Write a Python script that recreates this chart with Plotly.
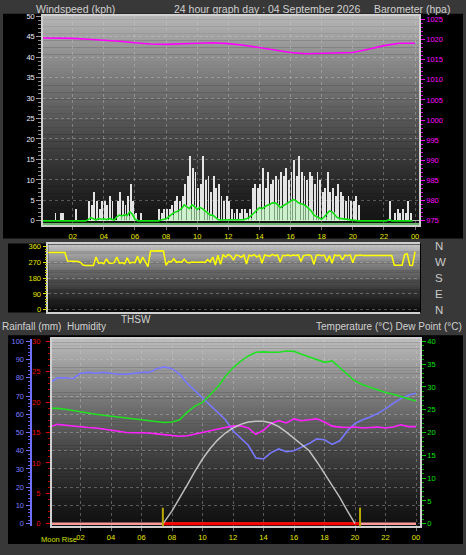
import plotly.graph_objects as go

# ---------------- data ----------------
wind_times = [i / 6 for i in range(144)]          # 10-minute samples
wind_gust = [
    0, 0, 0, 0, 0, 2,
    0, 2, 2, 0, 0, 0,
    0, 3, 0, 0, 0, 0,
    5, 4, 7, 5, 3, 5,
    5, 4, 6, 5, 0, 5,
    7, 5, 4, 6, 9, 5,
    2, 0, 2, 0, 0, 0,
    0, 0, 0, 3, 2, 3,
    3, 3, 4, 5, 6, 5,
    6, 9, 11, 16, 13, 12,
    8, 9, 16, 10, 11, 7,
    11, 8, 9, 6, 5, 6,
    5, 3, 2, 3, 2, 3,
    3, 2, 3, 8, 9, 8,
    9, 13, 8, 12, 9, 10,
    11, 10, 12, 11, 13, 10,
    12, 15, 11, 16, 12, 11,
    10, 12, 11, 9, 12, 10,
    7, 8, 12, 7, 8, 6,
    9, 7, 6, 5, 6, 5,
    5, 6, 4, 0, 0, 0,
    0, 0, 0, 0, 0, 0,
    0, 0, 5, 0, 2, 3,
    2, 3, 2, 5, 2, 0,
]
wind_avg = [
    0, 0, 0, 0, 0, 0,
    0, 0, 0, 0, 0, 0,
    0, 0, 0, 0, 0, 0,
    0.3, 0.8, 0.5, 0.2, 0.6, 0.4,
    0.5, 0.3, 0.6, 0.4, 0.2, 1.0,
    1.4, 1.2, 1.5, 1.3, 2.2, 1.6,
    0.4, 0, 0, 0, 0, 0,
    0, 0, 0, 0, 0.2, 0.4,
    0.5, 1.0, 1.5, 2.0, 2.2, 2.6,
    3.0, 3.9, 3.4, 3.0, 3.9, 3.5,
    2.8, 3.3, 3.0, 2.5, 2.0, 1.4,
    1.4, 0.8, 0.3, 0.2, 0.2, 0.2,
    0.2, 0.3, 0.2, 0.3, 0.2, 0.3,
    0.3, 0.5, 0.8, 1.4, 2.0, 2.6,
    3.2, 3.0, 3.5, 3.8, 4.0, 4.4,
    4.4, 4.0, 3.2, 3.6, 4.2, 4.6,
    4.8, 5.2, 5.0, 4.4, 4.2, 4.0,
    3.6, 3.0, 2.4, 1.4, 1.0, 0.6,
    0.4, 1.0, 1.6, 2.4, 2.2, 1.4,
    0.8, 0.6, 0.5, 0.4, 0.4, 0.3,
    0.2, 0, 0, 0, 0, 0,
    0, 0, 0, 0, 0, 0,
    0, 0, 0.3, 0, 0, 0,
    0, 0, 0, 0, 0, 0,
]

baro_times = list(range(25))
barometer = [1020.4, 1020.4, 1020.3, 1020.1, 1019.9, 1019.6, 1019.2, 1018.9, 1018.8,
             1019.0, 1019.1, 1019.2, 1019.0, 1018.6, 1018.0, 1017.4, 1016.8, 1016.5,
             1016.6, 1016.6, 1016.8, 1017.6, 1018.5, 1019.1, 1019.1]

dir_times = [i / 6 for i in range(145)]
wind_dir = [
    325, 325, 324, 326, 325, 325, 324, 325, 326, 325,
    277, 276, 278, 277, 275, 270,
    255, 252, 253, 254, 252, 300,
    265, 268, 262, 290, 266, 264, 268, 300,
    265, 268, 262, 295, 266, 270,
    268, 305, 264, 300, 270, 245,
    334, 335, 334, 333, 335, 334,
    253, 275, 272, 290, 270, 273,
    271, 288, 270, 268, 272, 270,
    272, 270, 271, 269, 285, 272,
    300, 255, 310, 258, 312, 300,
    315, 305, 282, 312, 308, 298,
    312, 260, 310, 306, 314, 300,
    310, 265, 312, 308, 305, 315,
    308, 312, 270, 310, 307, 313,
    306, 311, 309, 312, 275, 308,
    310, 313, 306, 258, 310, 312,
    307, 311, 275, 309, 265, 312,
    308, 310, 283, 311, 307, 312,
    268, 310, 309, 311, 308, 310,
    309, 309, 309, 309, 309, 309, 309, 309, 309, 309,
    253, 252, 254, 253,
    315, 318, 253, 252, 330,
]

clim_times = [i * 0.5 for i in range(49)]
humidity = [77.5, 80, 80, 79.5, 82.5, 83, 82.5, 83, 82.5, 82, 82, 82.5, 83, 83,
            85, 86, 85, 82, 77, 73, 69, 65.5, 61, 57, 51, 47, 43, 36, 35.5, 39,
            41, 39.5, 40, 42, 44, 46.5, 46, 43.5, 45.5, 51, 55, 57, 58.5, 60.5,
            63, 66, 68.5, 70.5, 71.5]
temperature = [25.3, 25.3, 25.1, 24.8, 24.5, 24.3, 24.0, 23.8, 23.6, 23.5, 23.3,
               23.1, 22.9, 22.7, 22.4, 22.2, 22.3, 22.8, 24.5, 25.8, 26.6, 28.3,
               30.0, 32.3, 34.2, 35.6, 36.8, 37.6, 37.7, 37.6, 37.6, 37.9, 37.8,
               37.2, 36.6, 36.0, 35.4, 35.7, 34.3, 32.9, 31.3, 30.5, 29.9, 29.4,
               28.8, 28.4, 27.9, 27.4, 26.9]
dew_point = [21.3, 21.8, 21.6, 21.4, 21.2, 21.1, 21.0, 20.8, 20.6, 20.3, 20.0,
             20.0, 19.9, 19.9, 19.7, 19.5, 19.4, 19.2, 19.3, 19.6, 20.0, 20.4,
             20.8, 21.1, 21.4, 21.5, 21.0, 19.6, 20.5, 22.0, 22.6, 22.1, 23.0,
             22.6, 22.8, 23.0, 22.3, 21.4, 21.2, 21.1, 21.2, 21.0, 21.1, 21.2,
             21.0, 21.2, 21.7, 21.3, 21.3]

sun_times = [7.4, 7.5, 8, 8.5, 9, 9.5, 10, 10.5, 11, 11.5, 12, 12.5, 13, 13.5,
             14, 14.5, 15, 15.5, 16, 16.5, 17, 17.5, 18, 18.5, 19, 19.5, 20.0]
sun_curve = [0, 0.4, 2.8, 5.5, 8.5, 11.5, 14.2, 16.5, 18.4, 19.9, 21.0, 21.8,
             22.3, 22.5, 22.5, 22.1, 21.3, 20.1, 18.7, 17.4, 16.0, 13.6, 11.0,
             8.6, 5.8, 2.8, 0]

rain_times = [0, 3, 6, 9, 12, 15, 18, 21, 24]
rainfall = [0, 0, 0, 0, 0, 0, 0, 0, 0]
sun_events = [7.4, 20.33]            # sunrise, sunset

hour_ticks = [2, 4, 6, 8, 10, 12, 14, 16, 18, 20, 22, 24]
hour_labels = ["02", "04", "06", "08", "10", "12", "14", "16", "18", "20", "22", "00"]
dir_ticks = [0, 90, 180, 270, 360]
compass_labels = ["N", "E", "S", "W", "N"]

# ---------------- layout helpers ----------------
W, H = 466, 555
FONT = "Liberation Sans"


def px(x):
    return x / W


def py(y):
    return 1 - y / H


shapes = []


def rect(x0, x1, y0, y1, color):
    shapes.append(dict(type="rect", xref="paper", yref="paper", layer="below",
                       x0=px(x0), x1=px(x1), y0=py(y1), y1=py(y0),
                       fillcolor=color, line=dict(width=0)))


def gradient(x0, x1, y0, y1, top, bot, n=60, gamma=1.3):
    for k in range(n):
        t = (k + 0.5) / n
        c = int(round(bot + (top - bot) * (1 - t) ** gamma))
        ya = y0 + (y1 - y0) * k / n
        yb = y0 + (y1 - y0) * (k + 1) / n + 0.4
        rect(x0, x1, ya, min(yb, y1), f"rgb({c},{c},{c})")


# black panels
rect(3, 463, 10, 238, "#000000")
rect(8, 421, 243, 313, "#000000")
rect(8, 463, 336, 548, "#000000")
# plot area gradients
gradient(43, 419, 12, 224, 182, 20)
gradient(48.3, 420, 244, 312, 195, 16)
gradient(51.7, 420, 340, 530, 188, 16)

# sunrise / sunset markers
for ev in sun_events:
    shapes.append(dict(type="line", xref="x3", yref="y6 domain", x0=ev, x1=ev,
                       y0=0, y1=0.1, line=dict(color="#b8a800", width=2)))
# light green base line of the wind panel
shapes.append(dict(type="line", xref="x domain", yref="y domain", x0=0, x1=1, y0=0.004,
                   y1=0.004, line=dict(color="#8ee88e", width=1.5)))

fig = go.Figure()

# ---- top panel: wind speed + barometer ----
fig.add_trace(go.Bar(x=wind_times, y=wind_gust, xaxis="x", yaxis="y", width=0.12,
                     marker=dict(color="rgba(245,245,245,0.92)", line=dict(width=0)),
                     offset=0, name="gust"))
fig.add_trace(go.Bar(x=wind_times, y=wind_avg, xaxis="x", yaxis="y", width=0.17,
                     marker=dict(color="rgba(190,250,190,0.6)", line=dict(width=0)),
                     offset=0, name="avg bars"))
fig.add_trace(go.Scatter(x=wind_times, y=wind_avg, xaxis="x", yaxis="y", mode="lines",
                         line=dict(color="#10e010", width=1.6), name="avg"))
fig.add_trace(go.Scatter(x=baro_times, y=barometer, xaxis="x", yaxis="y2", mode="lines",
                         line=dict(color="#ff00ff", width=1.6), name="baro"))

# ---- middle panel: wind direction ----
fig.add_trace(go.Scatter(x=dir_times, y=wind_dir, xaxis="x2", yaxis="y3", mode="lines",
                         line=dict(color="#ffff00", width=1.5), name="dir"))
fig.add_trace(go.Scatter(x=dir_times, y=wind_dir, xaxis="x2", yaxis="y4", mode="lines",
                         line=dict(color="rgba(0,0,0,0)", width=0), hoverinfo="skip",
                         name="compass"))

# ---- bottom panel ----
fig.add_trace(go.Scatter(x=rain_times, y=rainfall, xaxis="x3", yaxis="y6", mode="lines",
                         line=dict(color="#ff9a9a", width=2.5), name="rain"))
fig.add_trace(go.Scatter(x=sun_events, y=[rainfall[0], rainfall[-1]], xaxis="x3", yaxis="y6",
                         mode="lines", line=dict(color="#ff0000", width=3), name="daylight"))
fig.add_trace(go.Scatter(x=clim_times, y=humidity, xaxis="x3", yaxis="y5", mode="lines",
                         line=dict(color="#7878ff", width=1.6), name="hum"))
fig.add_trace(go.Scatter(x=clim_times, y=temperature, xaxis="x3", yaxis="y7", mode="lines",
                         line=dict(color="#22e022", width=1.6), name="temp"))
fig.add_trace(go.Scatter(x=clim_times, y=dew_point, xaxis="x3", yaxis="y7", mode="lines",
                         line=dict(color="#ff22ff", width=1.6), name="dew"))
fig.add_trace(go.Scatter(x=sun_times, y=sun_curve, xaxis="x3", yaxis="y7", mode="lines",
                         line=dict(color="rgba(215,215,215,0.85)", width=1.5), name="sun"))

GRID = "rgba(210,210,210,0.35)"
FRAME = "#d0d0d0"

xcommon = dict(tickvals=hour_ticks, ticktext=hour_labels, showgrid=True, gridcolor=GRID,
               griddash="dot", gridwidth=1, zeroline=False, showline=True, mirror=True,
               linecolor=FRAME, linewidth=1.5, ticks="outside", ticklen=3,
               tickcolor="#777777", tickfont=dict(family=FONT, size=7.5, color="#e8e800"))

fig.update_layout(
    width=W, height=H, autosize=False,
    margin=dict(l=0, r=0, t=0, b=0),
    paper_bgcolor="#383838", plot_bgcolor="rgba(0,0,0,0)",
    showlegend=False, barmode="overlay", bargap=0,
    font=dict(family=FONT, color="#d0d0d0"),
    shapes=shapes,
    xaxis=dict(domain=[px(43), px(419)], range=[0.09, 24.254], anchor="y", **xcommon),
    yaxis=dict(domain=[py(224), py(12)], range=[-0.96, 50.07], dtick=5, tick0=0,
               showgrid=True, gridcolor=GRID, griddash="dot", zeroline=True,
               zerolinecolor="#bbbbbb", zerolinewidth=1, showline=True, linecolor=FRAME,
               linewidth=1.5, ticks="outside", ticklen=5, tickcolor="#999999",
               minor=dict(ticks="outside", ticklen=3, dtick=1, tickcolor="#888888", showgrid=False),
               tickfont=dict(family=FONT, size=7.5, color="#e8ecff"), anchor="x"),
    yaxis2=dict(overlaying="y", side="right", anchor="x", range=[974.02, 1025.9],
                dtick=5, tick0=975, showgrid=False, zeroline=False, showline=True,
                linecolor=FRAME, linewidth=1.5, ticks="outside", ticklen=4,
                tickcolor="#ff00ff",
                minor=dict(ticks="outside", ticklen=2, dtick=1, tickcolor="#cc00cc"),
                tickfont=dict(family=FONT, size=7.5, color="#ff00ff")),
    xaxis2=dict(domain=[px(48.3), px(420)], range=[0.431, 24.319], anchor="y3",
                showticklabels=False, showgrid=False, zeroline=False, showline=True,
                mirror=True, linecolor=FRAME, linewidth=1.5, ticks=""),
    yaxis3=dict(domain=[py(312), py(244)], range=[-9.5, 371.2], anchor="x2",
                tickvals=dir_ticks, showgrid=True, gridcolor=GRID, griddash="dot",
                zeroline=False, showline=True, linecolor=FRAME, linewidth=1.5,
                ticks="outside", ticklen=4, tickcolor="#e0e000",
                minor=dict(ticks="outside", ticklen=2, dtick=15, tickcolor="#c8c800"),
                tickfont=dict(family=FONT, size=7.5, color="#e8e800")),
    yaxis4=dict(overlaying="y3", side="right", anchor="x2", range=[-9.5, 371.2],
                tickvals=dir_ticks, ticktext=compass_labels, showgrid=False,
                zeroline=False, showline=False, ticks="", ticklabelstandoff=14,
                tickfont=dict(family=FONT, size=11.5, color="#c8c8c8")),
    xaxis3=dict(domain=[px(51.7), px(420)], range=[0.111, 24.262], anchor="y6", **xcommon),
    yaxis6=dict(domain=[py(530), py(340)], range=[-0.44, 30.37], anchor="x3", dtick=5,
                tick0=0, showgrid=False, zeroline=False, showline=True, linecolor=FRAME,
                linewidth=1.5, ticks="outside", ticklen=4, tickcolor="#dd0000",
                minor=dict(ticks="outside", ticklen=2, dtick=1, tickcolor="#bb0000"),
                ticklabelstandoff=4,
                tickfont=dict(family=FONT, size=7.5, color="#ee0000")),
    yaxis5=dict(overlaying="y6", anchor="free", position=px(30.5), side="left",
                range=[-1.46, 101.24], dtick=10, tick0=0, showgrid=True, gridcolor=GRID,
                griddash="dot", zeroline=False, showline=True, linecolor="#7070ff",
                linewidth=2, ticks="outside", ticklen=4, tickcolor="#7070ff",
                minor=dict(ticks="outside", ticklen=2, dtick=2, tickcolor="#6060ee"),
                tickfont=dict(family=FONT, size=7.5, color="#7a7aff")),
    yaxis7=dict(overlaying="y6", side="right", anchor="x3", range=[-0.58, 40.5],
                dtick=5, tick0=0, showgrid=False, zeroline=False, showline=True,
                linecolor=FRAME, linewidth=1.5, ticks="outside", ticklen=4,
                tickcolor="#00cc00",
                minor=dict(ticks="outside", ticklen=2, dtick=1, tickcolor="#00aa00"),
                tickfont=dict(family=FONT, size=7.5, color="#00e000")),
)


def label(text, x, y, anchor="left", size=10, color="#d0d0d0"):
    fig.add_annotation(text=text, x=px(x), y=py(y), xref="paper", yref="paper",
                       xanchor=anchor, yanchor="middle", showarrow=False,
                       font=dict(family=FONT, size=size, color=color))


label("Windspeed (kph)", 34, 5, size=10.5)
label("24 hour graph day : 04 September 2026", 172, 5, size=10.5)
label("Barometer (hpa)", 372, 5, size=10.5)
label("Rainfall (mm)  Humidity", 0, 327)
label("THSW", 119, 320)
label("Temperature (°C) Dew Point (°C)", 464, 327, anchor="right")
label("Moon Rise", 39, 543, size=7.5, color="#d0e000")

fig.write_html("out.html", config={"displayModeBar": False},
               post_script="document.body.style.margin='0';")
